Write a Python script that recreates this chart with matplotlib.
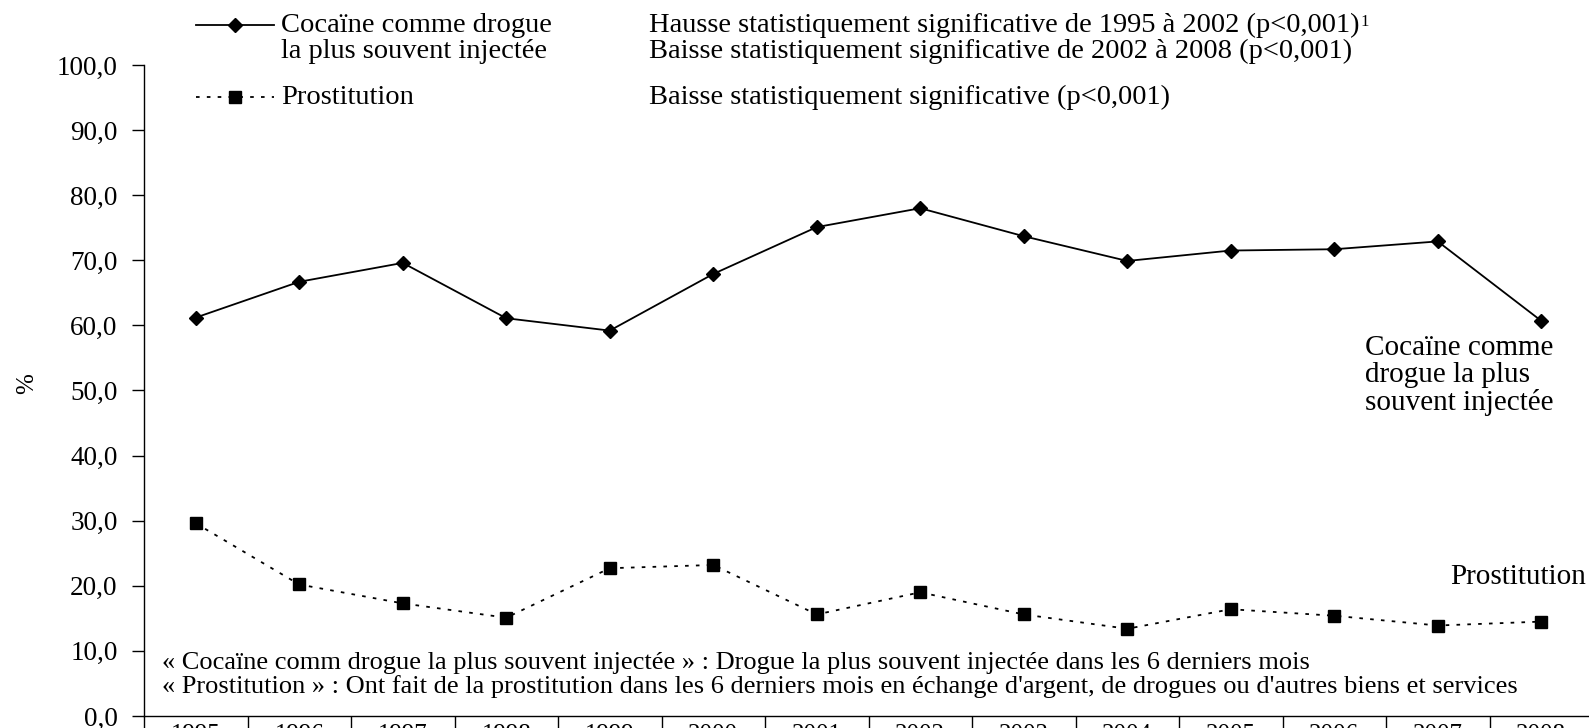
import matplotlib.pyplot as plt
from matplotlib.ticker import FuncFormatter, FixedLocator
from matplotlib.lines import Line2D

plt.rcParams['font.family'] = ['Liberation Serif', 'DejaVu Serif']

years = ['1995', '1996', '1997', '1998', '1999', '2000', '2001',
         '2002', '2003', '2004', '2005', '2006', '2007', '2008']
cocaine = [61.2, 66.7, 69.6, 61.1, 59.2, 67.9, 75.1,
           78.0, 73.7, 69.9, 71.5, 71.7, 72.9, 60.7]
prostitution = [29.6, 20.2, 17.3, 15.1, 22.7, 23.2, 15.6,
                19.0, 15.6, 13.4, 16.4, 15.4, 13.9, 14.5]

W, H = 1589, 728
fs_tick = 19.5
fs_txt = 20.5
fs_note = 19

fig = plt.figure(figsize=(W / 100, H / 100), dpi=100)
# axes placed in pixel units of the reference
left, right, bottom, top = 144, 1593, 716, 65
ax = fig.add_axes([left / W, 1 - bottom / H, (right - left) / W, (bottom - top) / H])

x = list(range(len(years)))
ax.plot(x, cocaine, color='black', lw=1.3, marker='D', ms=7, mfc='black', mec='black')
ax.plot(x, prostitution, color='black', lw=1.3, ls=(0, (2, 4)), marker='s', ms=8.5,
        mfc='black', mec='black')

ax.set_xlim(-0.5, len(years) - 0.5)
ax.set_ylim(0, 100)
ax.set_yticks(range(0, 101, 10))
ax.yaxis.set_major_formatter(FuncFormatter(lambda v, p: f'{v:.1f}'.replace('.', ',')))
ax.tick_params(axis='y', direction='out', length=9, width=1, labelsize=fs_tick, pad=10)

ax.set_xticks(x)
ax.set_xticklabels(years)
ax.xaxis.set_minor_locator(FixedLocator([i - 0.5 for i in range(len(years) + 1)]))
ax.tick_params(axis='x', which='major', length=0, labelsize=18, pad=6)
ax.tick_params(axis='x', which='minor', direction='out', length=40, width=1)

for s in ['top', 'right']:
    ax.spines[s].set_visible(False)
for s in ['left', 'bottom']:
    ax.spines[s].set_linewidth(1)

ax.set_ylabel('%', fontsize=18)
ax.yaxis.set_label_coords((38 - left) / (right - left), 0.51)

# legend drawn by hand in pixel coordinates
ov = fig.add_axes([0, 0, 1, 1], facecolor='none')
ov.set_xlim(0, W)
ov.set_ylim(H, 0)
ov.axis('off')
ov.add_line(Line2D([196, 274], [25, 25], color='black', lw=1.3))
ov.add_line(Line2D([235], [25], color='black', marker='D', ms=7))
ov.add_line(Line2D([196, 274], [97, 97], color='black', lw=1.3, ls=(0, (2, 4))))
ov.add_line(Line2D([235], [97], color='black', marker='s', ms=8.5))

ov.text(281, 25, 'Cocaïne comme drogue', fontsize=fs_txt, va='center')
ov.text(281, 51, 'la plus souvent injectée', fontsize=fs_txt, va='center')
ov.text(281, 97, 'Prostitution', fontsize=fs_txt, va='center')

t1 = ov.text(649, 25, 'Hausse statistiquement significative de 1995 à 2002 (p<0,001)',
             fontsize=fs_txt, va='center')
ov.annotate('1', xy=(1, 0.95), xycoords=t1, xytext=(1, 0), textcoords='offset points',
            fontsize=12, ha='left', va='top')
ov.text(649, 51, 'Baisse statistiquement significative de 2002 à 2008 (p<0,001)',
        fontsize=fs_txt, va='center')
ov.text(649, 97, 'Baisse statistiquement significative (p<0,001)', fontsize=fs_txt, va='center')

for i, line in enumerate(['Cocaïne comme', 'drogue la plus', 'souvent injectée']):
    ov.text(1365, 348 + 27.5 * i, line, fontsize=21, va='center')
ov.text(1586, 577, 'Prostitution', fontsize=21, va='center', ha='right')

ov.text(162, 663, "« Cocaïne comm drogue la plus souvent injectée » : Drogue la plus souvent injectée dans les 6 derniers mois",
        fontsize=fs_note, va='center')
ov.text(162, 687, "« Prostitution » : Ont fait de la prostitution dans les 6 derniers mois en échange d'argent, de drogues ou d'autres biens et services",
        fontsize=fs_note, va='center')

fig.savefig('out.png', dpi=100)
